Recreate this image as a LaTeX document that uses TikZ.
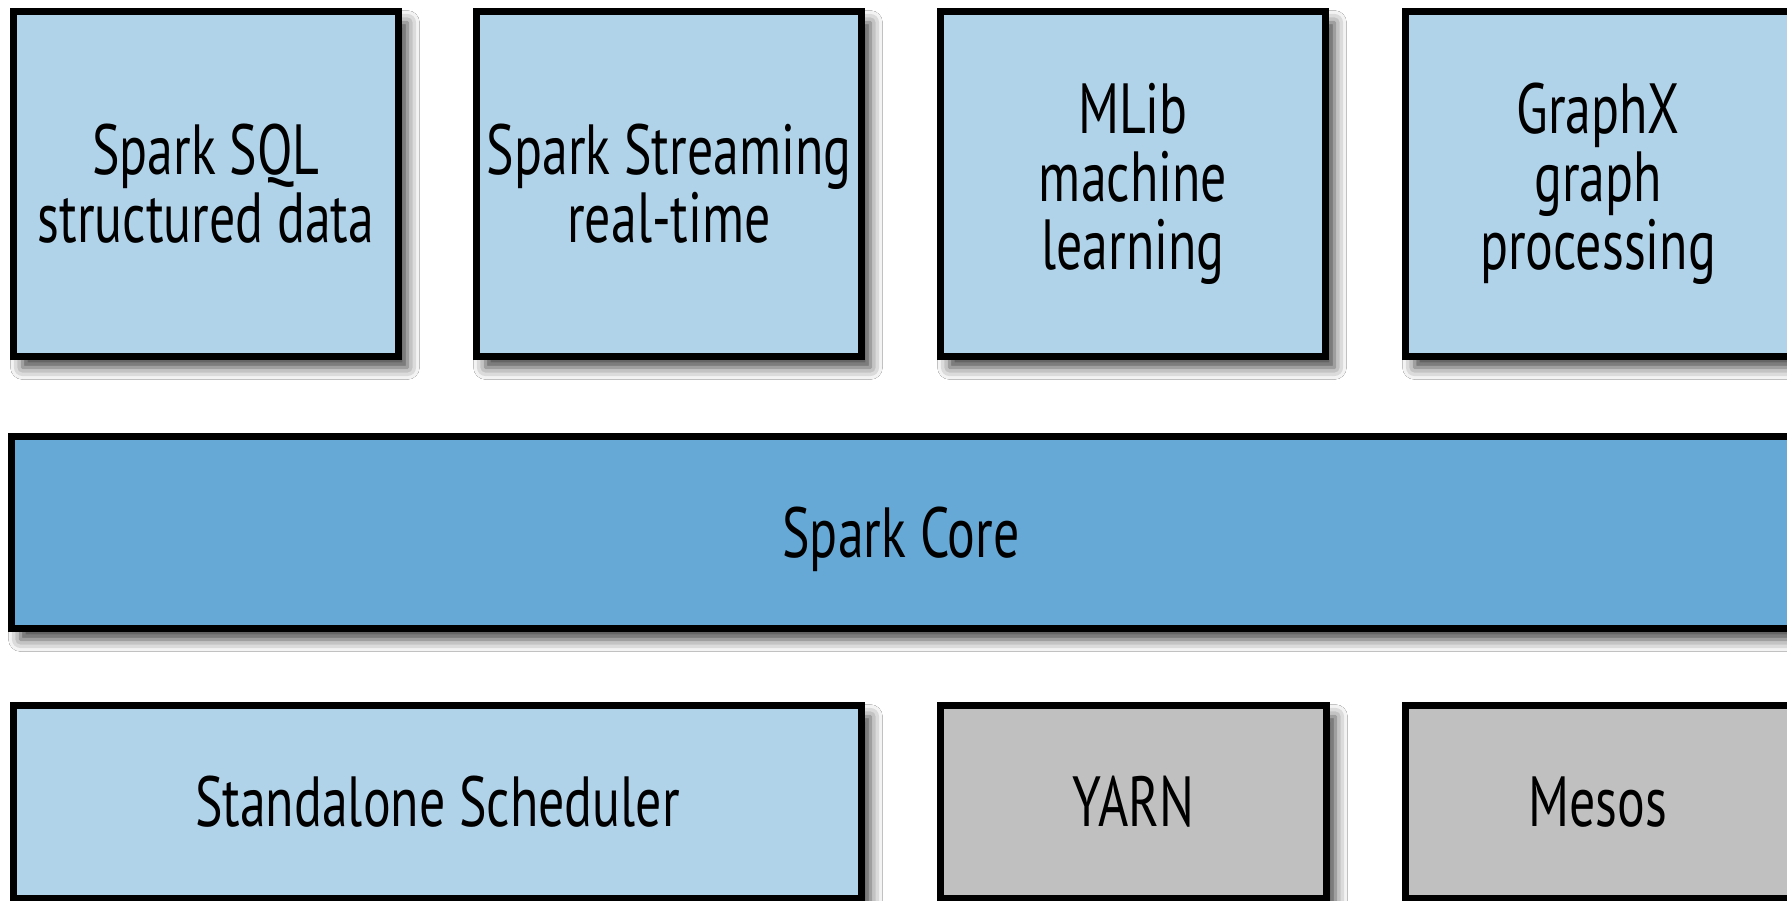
\documentclass[tikz,border=0pt]{standalone}
\usepackage{fontspec}
\setmainfont[FakeStretch=0.73]{PT Sans}
\usetikzlibrary{shadows.blur}
\definecolor{lightbox}{HTML}{B1D3E9}
\definecolor{corebox}{HTML}{66A9D6}
\definecolor{graybox}{HTML}{C0C0C0}
\tikzset{
  layer/.style={draw=black, line width=7pt, rectangle, inner sep=0pt, align=center,
    font=\fontsize{71}{68}\selectfont,
    blur shadow={shadow xshift=9pt, shadow yshift=-11pt, shadow blur radius=12pt, shadow opacity=75}},
  lite/.style={layer, fill=lightbox},
  core/.style={layer, fill=corebox},
  grey/.style={layer, fill=graybox},
}
\begin{document}
\begin{tikzpicture}[x=1pt,y=-1pt]
\useasboundingbox (0,0) rectangle (1787,901);
\fill[white] (0,0) rectangle (1787,901);
\clip (0,0) rectangle (1787,901);
% top row
\node[lite, minimum width=385pt, minimum height=345pt] (sql) at (206,184) {Spark SQL\\structured data};
\node[lite, minimum width=385pt, minimum height=345pt] (stream) at (669,184) {Spark Streaming\\real-time};
\node[lite, minimum width=385pt, minimum height=345pt] (mlib) at (1133,184) {MLib\\machine\\learning};
\node[lite, minimum width=385pt, minimum height=345pt] (graphx) at (1598,184) {GraphX\\graph\\processing};
% core
\node[core, minimum width=1779pt, minimum height=192pt, text depth=0pt] (core) at (901,532.5) {Spark Core};
% bottom row
\node[lite, minimum width=848pt, minimum height=193pt] (standalone) at (437.5,802) {Standalone Scheduler};
\node[grey, minimum width=386pt, minimum height=193pt] (yarn) at (1133.5,802) {YARN};
\node[grey, minimum width=385pt, minimum height=193pt] (mesos) at (1598,802) {Mesos};
\end{tikzpicture}
\end{document}
